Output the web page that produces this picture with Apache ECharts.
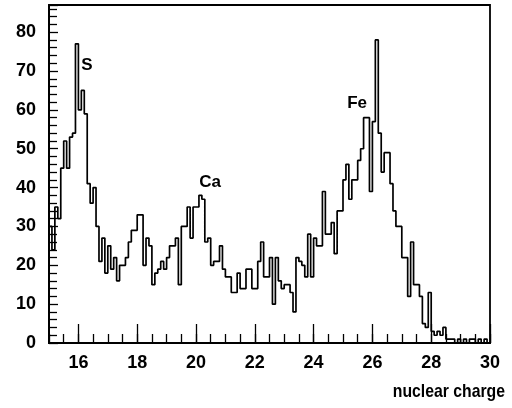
<!DOCTYPE html>
<html>
<head>
<meta charset="utf-8">
<script src="https://cdn.jsdelivr.net/npm/echarts@6/dist/echarts.min.js"></script>
<style>html,body{margin:0;padding:0;background:#fff}#c{width:512px;height:408px}</style>
</head>
<body>
<div id="c"></div>
<script>
// Histogram: bin start, bin width, and counts per bin
const binStart = 15.0;
const binWidth = 0.1;
const counts = [
  30, 24, 35, 32, 45, 52, 45, 53, 54, 77,
  60, 65, 59, 41, 36, 40, 30, 21, 27, 18,
  25, 19, 22, 16, 20, 20, 22, 26, 29, 29,
  33, 33, 20, 27, 25, 15, 18, 19, 21, 19,
  22, 25, 25, 27, 15, 30, 30, 35, 27, 35,
  35, 38, 37, 26, 27, 20, 21, 21, 25, 19,
  17, 17, 13, 13, 18, 14, 14, 19, 19, 14,
  14, 21, 26, 17, 17, 22, 10, 22, 16, 14,
  15, 15, 13, 8, 22, 21, 20, 17, 28, 17,
  27, 25, 25, 39, 28, 28, 31, 23, 34, 34,
  42, 46, 37, 42, 42, 47, 50, 58, 58, 39,
  57, 78, 54, 44, 49, 49, 41, 34, 30, 30,
  22, 22, 12, 26, 15, 15, 12, 5, 4, 13,
  3, 2, 3, 2, 4, 1, 1, 1, 0, 1,
  0, 1, 0, 1, 1, 0, 1, 0, 1, 0
];
const xTickLabels = [16, 18, 20, 22, 24, 26, 28, 30];
const peakNames = ['S', 'Ca', 'Fe'];
const peakX = [16.29, 20.48, 25.48];
const peakY = [71.5, 41.3, 61.8];

const stepData = counts.map((c, i) => [+(binStart + i * binWidth).toFixed(2), c]);
stepData.push([+(binStart + counts.length * binWidth).toFixed(2), counts[counts.length - 1]]);

const font = 'Liberation Sans, Arial, sans-serif';
const chart = echarts.init(document.getElementById('c'));
chart.setOption({
  animation: false,
  backgroundColor: '#fff',
  grid: { left: 49, right: 22, top: 5, bottom: 65, show: true, borderColor: '#000', borderWidth: 1.8 },
  xAxis: [
    {
      type: 'value', min: 15, max: 30,
      axisLine: { show: true, lineStyle: { color: '#000', width: 2 } },
      axisTick: { show: true, inside: true, length: 19, customValues: xTickLabels, lineStyle: { color: '#000', width: 1.3 } },
      axisLabel: { show: true, customValues: xTickLabels, margin: 11, color: '#000', fontFamily: font, fontWeight: 'bold', fontSize: 18 },
      splitLine: { show: false }
    },
    {
      type: 'value', min: 15, max: 30, interval: 0.5, position: 'bottom',
      axisLine: { show: false },
      axisTick: { show: true, inside: true, length: 9, lineStyle: { color: '#000', width: 1.3 } },
      axisLabel: { show: false },
      splitLine: { show: false }
    }
  ],
  yAxis: {
    type: 'value', min: 0, max: 87, interval: 10,
    axisLine: { show: true, lineStyle: { color: '#000', width: 2 } },
    axisTick: { show: true, inside: true, length: 9, lineStyle: { color: '#000', width: 1.3 } },
    minorTick: { show: true, splitNumber: 5, length: 8, lineStyle: { color: '#000', width: 1.3 } },
    axisLabel: { margin: 13, color: '#000', fontFamily: font, fontWeight: 'bold', fontSize: 18, showMaxLabel: false },
    splitLine: { show: false }
  },
  graphic: [
    { type: 'text', x: 505, y: 392, scaleX: 0.83, scaleY: 1,
      style: { text: 'nuclear charge', font: 'bold 19px ' + font, fill: '#000', textAlign: 'right', textVerticalAlign: 'middle' } }
  ],
  series: [
    {
      type: 'line', step: 'end', data: stepData, showSymbol: false, symbol: 'none',
      lineStyle: { color: '#000', width: 1.7 }, xAxisIndex: 0
    },
    {
      type: 'scatter', symbolSize: 0, xAxisIndex: 0, itemStyle: { opacity: 1 },
      data: peakNames.map((n, i) => ({ name: n, value: [peakX[i], peakY[i]] })),
      label: { show: true, position: 'inside', formatter: p => p.name, color: '#000', opacity: 1, textBorderWidth: 0, fontFamily: font, fontSize: 17, fontWeight: 'bold' }
    }
  ]
});
</script>
</body>
</html>
